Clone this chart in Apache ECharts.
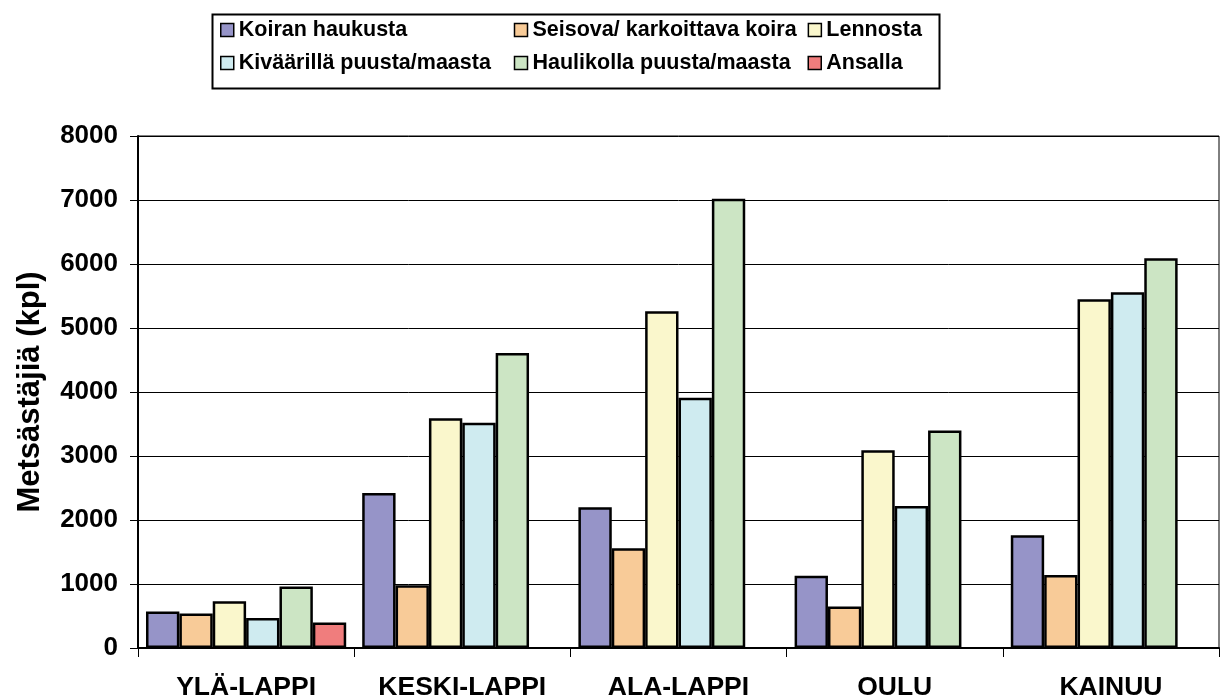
<!DOCTYPE html>
<html>
<head>
<meta charset="utf-8">
<script src="https://cdn.jsdelivr.net/npm/echarts@6/dist/echarts.min.js"></script>
<style>
html,body{margin:0;padding:0;background:#fff;}
#chart{width:1222px;height:699px;}
</style>
</head>
<body>
<div id="chart"></div>
<script>
var categories = ['YLÄ-LAPPI', 'KESKI-LAPPI', 'ALA-LAPPI', 'OULU', 'KAINUU'];
var seriesNames = ['Koiran haukusta', 'Seisova/ karkoittava koira', 'Lennosta', 'Kiväärillä puusta/maasta', 'Haulikolla puusta/maasta', 'Ansalla'];
var koiranHaukusta = [570, 2420, 2200, 1130, 1760];
var seisovaKoira = [540, 980, 1560, 650, 1140];
var lennosta = [730, 3590, 5260, 3090, 5450];
var kivaarilla = [470, 3520, 3910, 2220, 5560];
var haulikolla = [960, 4610, 7020, 3400, 6090];
var ansalla = [400, null, null, null, null];
var yTicks = [0, 1000, 2000, 3000, 4000, 5000, 6000, 7000, 8000];

var colors = ['#9694C8', '#F8CB98', '#FAF7CC', '#CFEBF0', '#CCE5C4', '#F07D7D'];
var values = [koiranHaukusta, seisovaKoira, lennosta, kivaarilla, haulikolla, ansalla];
var FONT = "'Liberation Sans', Arial, sans-serif";

var chart = echarts.init(document.getElementById('chart'));
chart.setOption({
  animation: false,
  color: colors,
  graphic: [{
    type: 'rect',
    left: 210, top: 12,
    shape: { width: 727, height: 74 },
    style: { fill: 'none', stroke: '#000', lineWidth: 2 },
    z: 100
  }],
  legend: {
    left: 220,
    top: 19,
    width: 900,
    padding: 0,
    itemGap: 11,
    itemWidth: 13,
    itemHeight: 13,
    itemStyle: { borderColor: '#000', borderWidth: 1.5 },
    formatter: '{a|{name}}',
    textStyle: {
      fontFamily: FONT, fontWeight: 'bold', fontSize: 21.5, color: '#000',
      rich: { a: { width: 264, lineHeight: 22, fontFamily: FONT, fontWeight: 'bold', fontSize: 21.5, color: '#000' } }
    },
    data: seriesNames.map(function (n) { return { name: n, icon: 'rect' }; })
  },
  grid: {
    left: 138, right: 3, top: 136, bottom: 51,
    outerBoundsMode: 'none',
    containLabel: false,
    show: true, borderColor: '#000', borderWidth: 1
  },
  xAxis: {
    type: 'category',
    data: categories,
    axisLine: { lineStyle: { color: '#000', width: 2 } },
    axisTick: { show: true, interval: 0, length: 9, lineStyle: { color: '#000', width: 1 } },
    axisLabel: { interval: 0, margin: 26, fontFamily: FONT, fontWeight: 'bold', fontSize: 26.5, color: '#000' }
  },
  yAxis: {
    type: 'value',
    min: yTicks[0],
    max: yTicks[yTicks.length - 1],
    interval: 1000,
    name: 'Metsästäjiä (kpl)',
    nameLocation: 'middle',
    nameRotate: 90,
    nameGap: 92,
    nameTextStyle: { fontFamily: FONT, fontWeight: 'bold', fontSize: 31, color: '#000' },
    axisLine: { show: true, lineStyle: { color: '#000', width: 2 } },
    axisTick: { show: true, length: 8, lineStyle: { color: '#000', width: 1 } },
    axisLabel: {
      margin: 20, fontFamily: FONT, fontWeight: 'bold', fontSize: 26, color: '#000',
      formatter: function (v) { return String(v); }
    },
    splitLine: { show: true, lineStyle: { color: '#000', width: 1 } }
  },
  series: seriesNames.map(function (n, i) {
    return {
      name: n,
      type: 'bar',
      data: values[i],
      barGap: '0%',
      barCategoryGap: '7.4%',
      itemStyle: { color: colors[i], borderColor: '#000', borderWidth: 2.5 }
    };
  })
});
</script>
</body>
</html>
